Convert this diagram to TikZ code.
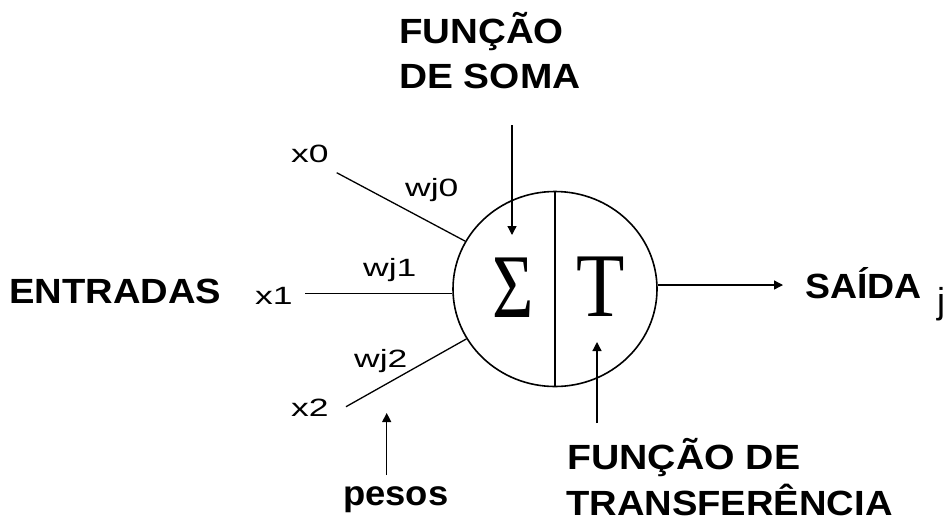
\documentclass[tikz,border=0pt]{standalone}
\usepackage{fontspec}
\usepackage{graphicx}
\setmainfont{Liberation Sans}
\newfontfamily\glyphfont{Liberation Serif}
\usetikzlibrary{shapes.geometric,arrows.meta}
% horizontal stretch of a label
\newcommand{\hscale}[2]{\scalebox{#1}[1]{#2}}

\begin{document}
\begin{tikzpicture}[x=1pt,y=-1pt,
  title/.style={font=\fontsize{35}{42}\selectfont\bfseries, inner sep=0pt, anchor=base west},
  small/.style={font=\fontsize{25}{30}\selectfont, inner sep=0pt, anchor=base west},
  glyph/.style={font=\fontsize{91}{100}\selectfont\glyphfont, inner sep=0pt, anchor=base},
  wire/.style={line width=1.3pt},
  arrowwire/.style={line width=1.3pt, -{Triangle[length=9pt,width=9pt]}},
  body/.style={draw, ellipse, line width=1.6pt, minimum width=204pt, minimum height=195pt, inner sep=0pt}]

\useasboundingbox (0,0) rectangle (949,520);

% the neuron
\node[body] (neuron) at (555,289) {};
\draw[line width=1.6pt] (neuron.north) -- (neuron.south);
\node[glyph] (sigma) at (513,317) {\hscale{0.78}{Σ}};
\node[glyph] (tfun) at (600.5,316) {\hscale{0.87}{T}};

% labels
\node[title] (soma1) at (399,43.5) {\hscale{1.10}{FUNÇÃO}};
\node[title] (soma2) at (399,88.3) {\hscale{1.11}{DE SOMA}};
\node[title] (entradas) at (9,303.3) {\hscale{1.09}{ENTRADAS}};
\node[title] (saida) at (805,298.3) {\hscale{1.07}{SAÍDA}};
\node[font=\fontsize{36}{42}\selectfont, inner sep=0pt, anchor=base] (sub) at (941,313) {j};
\node[title] (transf1) at (567,469) {\hscale{1.12}{FUNÇÃO DE}};
\node[title] (transf2) at (566,515.5) {\hscale{1.09}{TRANSFERÊNCIA}};
\node[title] (pesos) at (343,505) {\hscale{1.04}{pesos}};

\node[small] (x0) at (291,162) {\hscale{1.42}{x0}};
\node[small] (x1) at (255,304) {\hscale{1.42}{x1}};
\node[small] (x2) at (291,416) {\hscale{1.42}{x2}};
\node[small] (w0) at (405,196.7) {\hscale{1.42}{wj0}};
\node[small] (w1) at (363,276.7) {\hscale{1.42}{wj1}};
\node[small] (w2) at (354,367.5) {\hscale{1.42}{wj2}};

% free ends of the connectors
\coordinate (in0) at (336.7,172.7);
\coordinate (in1) at (305,293.3);
\coordinate (in2) at (346,406.7);
\coordinate (out) at (783,285);
\coordinate (somatop) at (512,125);
\coordinate (somatip) at (512,235);
\coordinate (transbot) at (597,423);
\coordinate (transtip) at (597,342);
\coordinate (pesosbot) at (386.7,475);
\coordinate (pesostip) at (386.7,413);

% inputs
\draw[wire] (in0) -- (neuron);
\draw[wire] (in1) -- (in1 -| neuron.west);
\draw[wire] (in2) -- (neuron);

% output
\draw[arrowwire] (out -| neuron.east) -- (out);

% pointers
\draw[arrowwire] (somatop) -- (somatip);
\draw[arrowwire] (transbot) -- (transtip);
\draw[arrowwire] (pesosbot) -- (pesostip);
\end{tikzpicture}
\end{document}
